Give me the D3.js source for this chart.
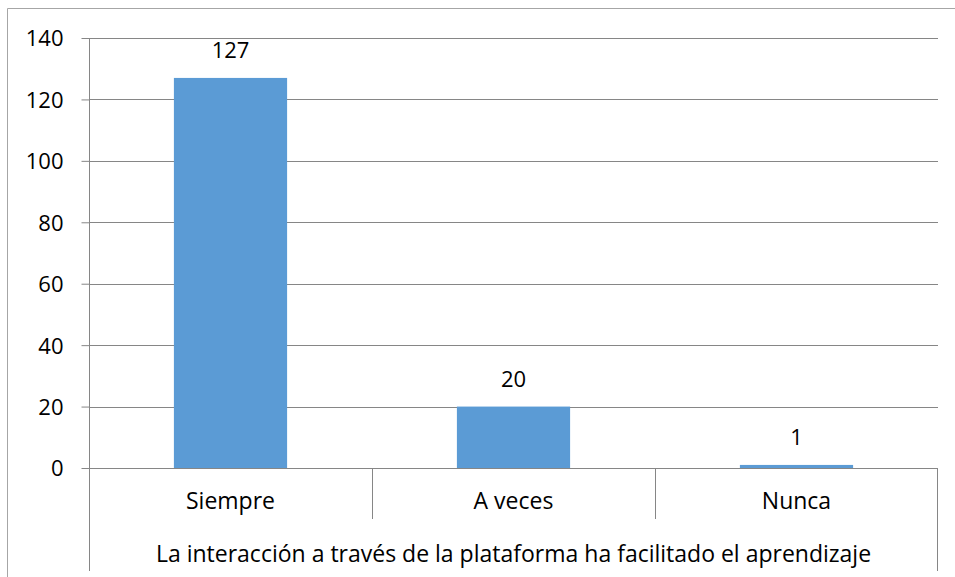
<!DOCTYPE html>
<html lang="es">
<head>
<meta charset="utf-8">
<title>La interacción a través de la plataforma</title>
<script src="https://d3js.org/d3.v7.min.js"></script>
<style>
  body { margin: 0; background: #fff; }
  text { font-family: "Open Sans", Lato, sans-serif; fill: #000; }
</style>
</head>
<body>
<script>
var categories = ["Siempre", "A veces", "Nunca"];
var values = [127, 20, 1];
var yTicks = [0, 20, 40, 60, 80, 100, 120, 140];
var groupLabel = "La interacción a través de la plataforma ha facilitado el aprendizaje";

var width = 955, height = 577;
var plotLeft = 89, plotRight = 938, plotTop = 38, plotBottom = 468;
var numSize = "22px", wordSize = "23px";

var svg = d3.select("body").append("svg")
    .attr("width", width)
    .attr("height", height);

// outer chart border (only top and left visible)
svg.append("path")
    .attr("d", "M7.5," + height + "V8.5H" + width)
    .attr("fill", "none")
    .attr("stroke", "#a6a6a6");

var x = d3.scaleBand()
    .domain(categories)
    .range([plotLeft, plotRight])
    .paddingInner(0.6)
    .paddingOuter(0.3);

var y = d3.scaleLinear()
    .domain([0, 140])
    .range([plotBottom, plotTop]);

// ticks + labels
var yAxis = svg.append("g")
    .attr("transform", "translate(" + (plotLeft + 0.5) + ",0)")
    .call(d3.axisLeft(y).tickValues(yTicks).tickSize(8).tickPadding(18));
yAxis.select(".domain").remove();
yAxis.selectAll("line").attr("stroke", "#868686");
yAxis.selectAll("text")
    .style("font-size", numSize)
    .attr("dy", "0.36em");

// gridlines
svg.append("g").selectAll("line")
    .data(yTicks)
    .join("line")
    .attr("x1", plotLeft)
    .attr("x2", plotRight)
    .attr("y1", function(d) { return Math.round(y(d)) + 0.5; })
    .attr("y2", function(d) { return Math.round(y(d)) + 0.5; })
    .attr("stroke", "#868686");

// vertical axis line extending through category area
svg.append("line")
    .attr("x1", plotLeft + 0.5).attr("x2", plotLeft + 0.5)
    .attr("y1", plotTop).attr("y2", 571)
    .attr("stroke", "#868686");
svg.append("line")
    .attr("x1", plotRight - 0.5).attr("x2", plotRight - 0.5)
    .attr("y1", plotBottom).attr("y2", 571)
    .attr("stroke", "#868686");

// category separators
var step = x.step();
svg.append("g").selectAll("line")
    .data(categories.slice(1))
    .join("line")
    .attr("x1", function(d) { return Math.round(plotLeft + step * categories.indexOf(d)) + 0.5; })
    .attr("x2", function(d) { return Math.round(plotLeft + step * categories.indexOf(d)) + 0.5; })
    .attr("y1", plotBottom)
    .attr("y2", 519)
    .attr("stroke", "#868686");

// bars
svg.append("g").selectAll("rect")
    .data(values)
    .join("rect")
    .attr("x", function(d, i) { return x(categories[i]); })
    .attr("width", x.bandwidth())
    .attr("y", function(d) { return y(d); })
    .attr("height", function(d) { return y(0) - y(d); })
    .attr("fill", "#5b9bd5");

// value labels
svg.append("g").selectAll("text")
    .data(values)
    .join("text")
    .attr("x", function(d, i) { return x(categories[i]) + x.bandwidth() / 2; })
    .attr("y", function(d) { return y(d) - 20; })
    .attr("text-anchor", "middle")
    .style("font-size", numSize)
    .text(function(d) { return d; });

// category labels
svg.append("g").selectAll("text")
    .data(categories)
    .join("text")
    .attr("x", function(d) { return x(d) + x.bandwidth() / 2; })
    .attr("y", 509)
    .attr("text-anchor", "middle")
    .style("font-size", wordSize)
    .text(function(d) { return d; });

svg.append("text")
    .attr("x", (plotLeft + plotRight) / 2)
    .attr("y", 562)
    .attr("text-anchor", "middle")
    .style("font-size", wordSize)
    .text(groupLabel);
</script>
</body>
</html>
